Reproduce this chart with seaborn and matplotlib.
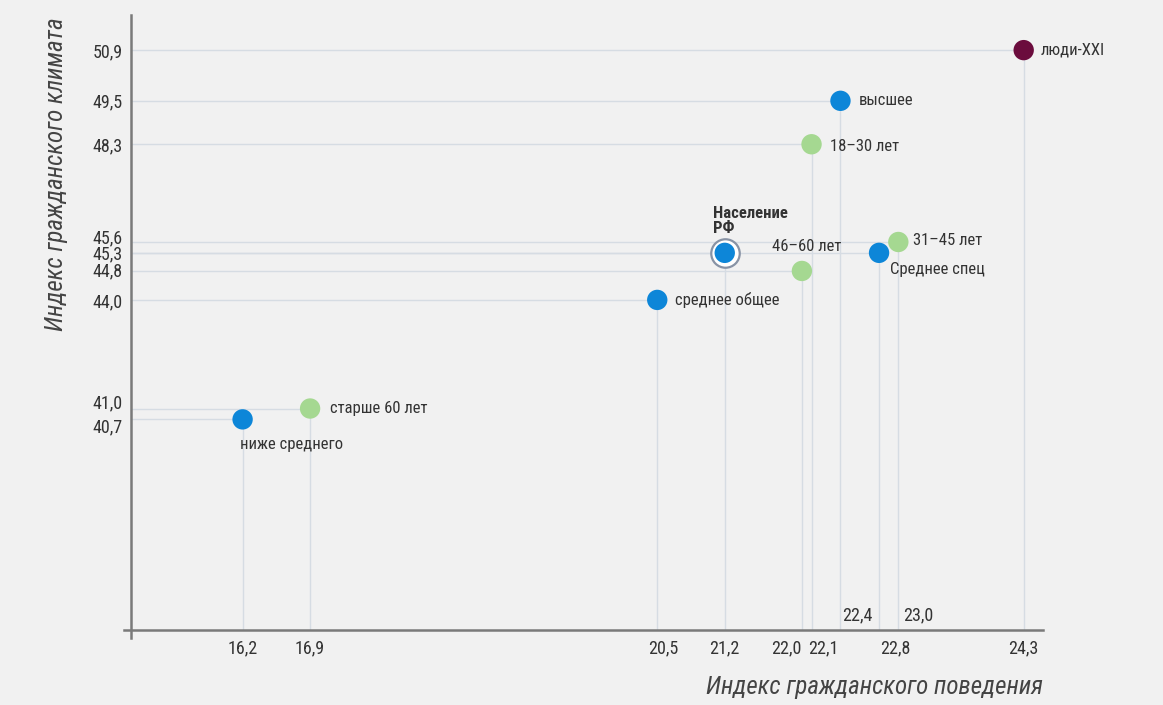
import matplotlib
matplotlib.use('Agg')
import matplotlib.pyplot as plt
import matplotlib.transforms as mtransforms
import seaborn as sns
import pandas as pd

# ---- data ----
labels = ['люди-XXI', 'высшее', '18–30 лет', '31–45 лет', 'Среднее спец',
          'Население\nРФ', '46–60 лет', 'среднее общее', 'старше 60 лет', 'ниже среднего']
behavior = [24.3, 22.4, 22.1, 23.0, 22.8, 21.2, 22.0, 20.5, 16.9, 16.2]
climate = [50.9, 49.5, 48.3, 45.6, 45.3, 45.3, 44.8, 44.0, 41.0, 40.7]
groups = ['XXI', 'образование', 'возраст', 'возраст', 'образование',
          'население', 'возраст', 'образование', 'возраст', 'образование']

x_ticks = [16.2, 16.9, 20.5, 21.2, 22.0, 22.1, 22.4, 22.8, 23.0, 24.3]
y_ticks = [40.7, 41.0, 44.0, 44.8, 45.3, 45.6, 48.3, 49.5, 50.9]

x_title = 'Индекс гражданского поведения'
y_title = 'Индекс гражданского климата'

df = pd.DataFrame({'x': behavior, 'y': climate, 'label': labels, 'group': groups})

# ---- style ----
BG = '#f1f1f1'
BLUE = '#0d86d8'
GREEN = '#a5d891'
MAROON = '#6b0c3d'
GRID = '#d6dce3'
TXT = '#333333'
palette = {'XXI': MAROON, 'образование': BLUE, 'возраст': GREEN, 'население': BLUE}

sns.set_theme(style='white')
plt.rcParams['font.family'] = ['Roboto Condensed', 'Roboto', 'DejaVu Sans']

fig = plt.figure(figsize=(11.63, 7.05), dpi=100, facecolor=BG)
ax = fig.add_axes([0.1066, 0.0950, 0.7902, 0.8837], facecolor=BG)

XMIN, XMAX = 14.97, 24.50
YMIN, YMAX = 34.66, 51.87
X_AXIS_Y = 34.88
Y_AXIS_X = 15.04
ax.set_xlim(XMIN, XMAX)
ax.set_ylim(YMIN, YMAX)

# guide lines from each point to the axes
ax.hlines(df['y'], Y_AXIS_X, df['x'], color=GRID, lw=1.0, zorder=1)
ax.vlines(df['x'], X_AXIS_Y, df['y'], color=GRID, lw=1.0, zorder=1)

# ring for the population point
pop = df[df['group'] == 'население']
sns.scatterplot(data=pop, x='x', y='y', s=420, color='white', edgecolor='#8893a5',
                linewidth=1.6, ax=ax, zorder=3, legend=False)
sns.scatterplot(data=df, x='x', y='y', hue='group', palette=palette, s=215,
                edgecolor='none', ax=ax, zorder=4, legend=False)

# point labels: (dx px, dy px, ha, va, weight)
place = {
    'люди-XXI': (17, 0, 'left', 'center', 'normal'),
    'высшее': (18, 0, 'left', 'center', 'normal'),
    '18–30 лет': (18, -2, 'left', 'center', 'normal'),
    '31–45 лет': (15, 1, 'left', 'center', 'normal'),
    'Среднее спец': (11, -17, 'left', 'center', 'normal'),
    'Население\nРФ': (-12, 32, 'left', 'center', 'bold'),
    '46–60 лет': (5, 24, 'center', 'center', 'normal'),
    'среднее общее': (18, 0, 'left', 'center', 'normal'),
    'старше 60 лет': (20, 0, 'left', 'center', 'normal'),
    'ниже среднего': (-3, -25, 'left', 'center', 'normal'),
}
for _, r in df.iterrows():
    dx, dy, ha, va, w = place[r['label']]
    ax.annotate(r['label'], (r['x'], r['y']), xytext=(dx * 0.72, dy * 0.72),
                textcoords='offset points', ha=ha, va=va, fontsize=12,
                color=TXT, fontweight=w, linespacing=0.95, zorder=5)

# axes / spines
for s in ['top', 'right']:
    ax.spines[s].set_visible(False)
ax.spines['left'].set_position(('data', Y_AXIS_X))
ax.spines['bottom'].set_position(('data', X_AXIS_Y))
for s in ['left', 'bottom']:
    ax.spines[s].set_color('#7a7a7a')
    ax.spines[s].set_linewidth(1.8)

fmt = lambda v: f'{v:.1f}'.replace('.', ',')
ax.set_xticks(x_ticks, [fmt(v) for v in x_ticks])
ax.set_yticks(y_ticks, [fmt(v) for v in y_ticks])
ax.tick_params(axis='both', length=0, labelsize=13, labelcolor=TXT)
ax.tick_params(axis='x', pad=7)
ax.tick_params(axis='y', pad=6)

# nudge crowded tick labels (px)
x_nudge = {22.0: (-16, 0), 22.1: (12, 0), 22.4: (17, 33), 22.8: (16, 0), 23.0: (20, 33), 20.5: (6, 0)}
y_nudge = {45.6: (0, 6), 41.0: (0, 7), 40.7: (0, -6), 44.8: (0, 2)}
for v, lab in zip(x_ticks, ax.get_xticklabels()):
    if v in x_nudge:
        dx, dy = x_nudge[v]
        lab.set_transform(lab.get_transform() + mtransforms.ScaledTranslation(dx / 100, dy / 100, fig.dpi_scale_trans))
for v, lab in zip(y_ticks, ax.get_yticklabels()):
    if v in y_nudge:
        dx, dy = y_nudge[v]
        lab.set_transform(lab.get_transform() + mtransforms.ScaledTranslation(dx / 100, dy / 100, fig.dpi_scale_trans))

ax.set_xlabel(x_title, fontsize=18, style='italic', color='#444444', loc='right')
ax.xaxis.set_label_coords(1.0, -0.060)
ax.set_ylabel(y_title, fontsize=18, style='italic', color='#444444')
ax.yaxis.set_label_coords(-0.061, 0.745)

fig.savefig('out.png', dpi=100, facecolor=BG)
